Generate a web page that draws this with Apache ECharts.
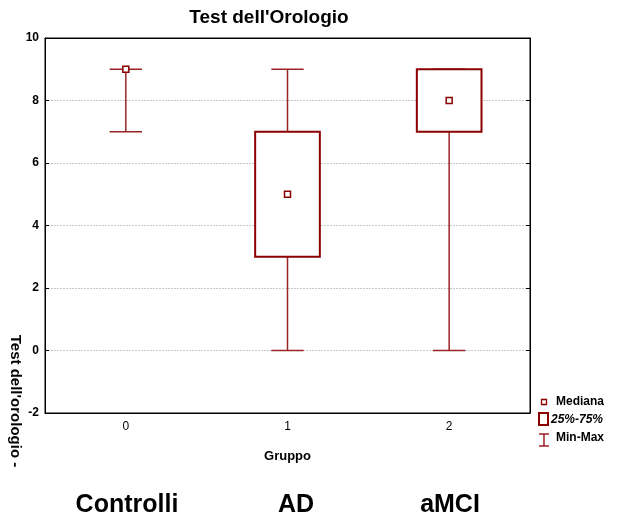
<!DOCTYPE html>
<html><head><meta charset="utf-8">
<script src="https://cdn.jsdelivr.net/npm/echarts@6/dist/echarts.min.js"></script>
<style>html,body{margin:0;padding:0;background:#fff}#c{width:617px;height:522px}</style>
</head><body><div id="c"></div>
<script>
var codes = ['0', '1', '2'];
var groupNames = ['Controlli', 'AD', 'aMCI'];
var minVals = [7, 0, 0];
var q1Vals = [9, 3, 7];
var medianVals = [9, 5, 8];
var q3Vals = [9, 7, 9];
var maxVals = [9, 9, 9];
var yTicks = [-2, 0, 2, 4, 6, 8, 10];

var FONT = 'Arial, "Liberation Sans", sans-serif';
var RED = '#8b0000';

var data = codes.map(function (c, i) {
  return [i, minVals[i], q1Vals[i], medianVals[i], q3Vals[i], maxVals[i]];
});

function renderItem(params, api) {
  var x = api.value(0);
  var pMin = api.coord([x, api.value(1)]);
  var pQ1 = api.coord([x, api.value(2)]);
  var pMed = api.coord([x, api.value(3)]);
  var pQ3 = api.coord([x, api.value(4)]);
  var pMax = api.coord([x, api.value(5)]);
  var band = api.size([1, 0])[0];
  var bw = band * 0.4, cw = band * 0.2;
  var cx = pMin[0];
  var children = [];
  var wStyle = { stroke: '#9a2424', lineWidth: 1.5 };
  children.push({ type: 'line', shape: { x1: cx, y1: pMin[1], x2: cx, y2: pMax[1] }, style: wStyle });
  children.push({ type: 'line', shape: { x1: cx - cw / 2, y1: pMin[1], x2: cx + cw / 2, y2: pMin[1] }, style: wStyle });
  children.push({ type: 'line', shape: { x1: cx - cw / 2, y1: pMax[1], x2: cx + cw / 2, y2: pMax[1] }, style: wStyle });
  if (api.value(4) !== api.value(2)) {
    children.push({ type: 'rect', shape: { x: cx - bw / 2, y: pQ3[1], width: bw, height: pQ1[1] - pQ3[1] },
      style: { fill: '#fff', stroke: RED, lineWidth: 2 } });
  }
  children.push({ type: 'rect', shape: { x: cx - 3, y: pMed[1] - 3, width: 6, height: 6 },
    style: { fill: '#fff', stroke: RED, lineWidth: 1.5 } });
  return { type: 'group', children: children };
}

var chart = echarts.init(document.getElementById('c'), null, { renderer: 'canvas' });
var groupLabelX = [127, 296, 450];
var graphics = [
  { type: 'text', x: 269, y: 18, style: { text: "Test dell'Orologio", font: 'bold 19px ' + FONT, fill: '#000', align: 'center', verticalAlign: 'middle' } },
  { type: 'text', x: 15, y: 401, rotation: -Math.PI / 2, style: { text: "Test dell'orologio -", font: 'bold 15px ' + FONT, fill: '#000', align: 'center', verticalAlign: 'middle' } },
  // legend
  { type: 'rect', shape: { x: 541.5, y: 399.5, width: 5, height: 5 }, style: { fill: '#fff', stroke: RED, lineWidth: 1.3 } },
  { type: 'text', x: 556, y: 402, style: { text: 'Mediana', font: 'bold 12px ' + FONT, fill: '#000', verticalAlign: 'middle' } },
  { type: 'rect', shape: { x: 539, y: 413, width: 9, height: 12 }, style: { fill: '#fff', stroke: RED, lineWidth: 2 } },
  { type: 'text', x: 551, y: 420, style: { text: '25%-75%', font: 'italic bold 12px ' + FONT, fill: '#000', verticalAlign: 'middle' } },
  { type: 'line', shape: { x1: 544, y1: 434, x2: 544, y2: 446 }, style: { stroke: RED, lineWidth: 1.3 } },
  { type: 'line', shape: { x1: 539, y1: 434, x2: 549, y2: 434 }, style: { stroke: RED, lineWidth: 1.3 } },
  { type: 'line', shape: { x1: 539, y1: 446, x2: 549, y2: 446 }, style: { stroke: RED, lineWidth: 1.3 } },
  { type: 'text', x: 556, y: 438, style: { text: 'Min-Max', font: 'bold 12px ' + FONT, fill: '#000', verticalAlign: 'middle' } }
];
groupNames.forEach(function (g, i) {
  graphics.push({ type: 'text', x: groupLabelX[i], y: 505, style: { text: g, font: 'bold 25px ' + FONT, fill: '#000', align: 'center', verticalAlign: 'middle' } });
});

var option = {
  animation: false,
  backgroundColor: '#fff',
  grid: { left: 45, right: 87, top: 38, bottom: 109, show: true, borderColor: '#000', borderWidth: 1 },
  xAxis: [
    { type: 'category', data: codes, position: 'bottom', boundaryGap: true,
      axisLine: { onZero: false, lineStyle: { color: '#000', width: 1 } },
      axisTick: { inside: true, alignWithLabel: true, length: 4, lineStyle: { color: '#000' } },
      axisLabel: { color: '#000', fontFamily: FONT, fontSize: 12, margin: 8 },
      name: 'Gruppo', nameLocation: 'middle', nameGap: 37,
      nameTextStyle: { fontFamily: FONT, fontSize: 13, fontWeight: 'bold', color: '#000' } },
    { type: 'category', data: codes, position: 'top', boundaryGap: true,
      axisLine: { onZero: false, lineStyle: { color: '#000' } },
      axisTick: { inside: true, alignWithLabel: true, length: 4, lineStyle: { color: '#000' } },
      axisLabel: { show: false } }
  ],
  yAxis: [
    { type: 'value', min: -2, max: 10, interval: 2, position: 'left',
      axisLine: { show: true, onZero: false, lineStyle: { color: '#000' } },
      axisTick: { show: true, inside: true, length: 4, lineStyle: { color: '#000' } },
      axisLabel: { color: '#000', fontFamily: FONT, fontSize: 12, fontWeight: 'bold', margin: 6 },
      splitLine: { show: true, showMinLine: false, showMaxLine: false, lineStyle: { color: '#c8c8c8', type: [2, 1], width: 1 } } },
    { type: 'value', min: -2, max: 10, interval: 2, position: 'right',
      axisLine: { show: true, onZero: false, lineStyle: { color: '#000' } },
      axisTick: { show: true, inside: true, length: 4, lineStyle: { color: '#000' } },
      axisLabel: { show: false }, splitLine: { show: false } }
  ],
  series: [{
    type: 'custom', xAxisIndex: 0, yAxisIndex: 0, renderItem: renderItem, data: data,
    encode: { x: 0, y: [1, 2, 3, 4, 5] }, clip: false
  }],
  graphic: graphics
};
chart.setOption(option);
</script>
</body></html>
